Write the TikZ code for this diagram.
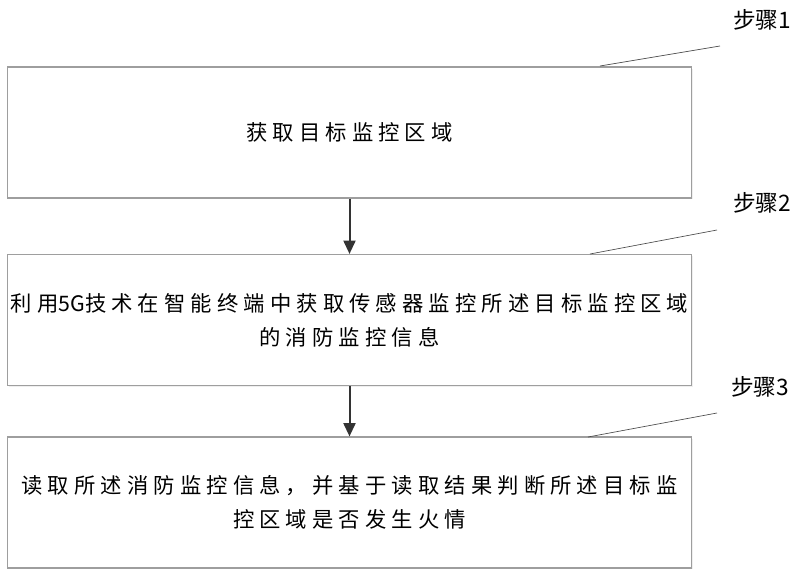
\documentclass[tikz,border=0pt]{standalone}
\usepackage{fontspec}
\newfontfamily\cjk[LetterSpace=24]{Noto Sans CJK SC}
\newfontfamily\cjklabel{Noto Sans CJK SC}
\usetikzlibrary{arrows.meta,shadows}
\tikzset{
  stepbox/.style={draw=black!38, line width=1.1pt, fill=white,
    drop shadow={shadow xshift=1.2pt, shadow yshift=-1.2pt, fill=black!12},
    minimum width=513pt, minimum height=98pt, inner sep=0pt,
    align=center, font=\cjk\fontsize{16pt}{25.5pt}\selectfont},
  steplabel/.style={font=\cjklabel\fontsize{17pt}{18pt}\selectfont, inner sep=0pt},
  leader/.style={draw=black!70, line width=0.5pt},
  flow/.style={draw=black!80, line width=1.5pt, -{Triangle[length=10pt,width=9pt]}}
}
\begin{document}
\begin{tikzpicture}[x=0.75pt,y=-0.75pt]
  \useasboundingbox (0,0) rectangle (800,578);
  \draw
    (349.5,132.5) node[stepbox] (s1){获取目标监控区域}
    (349.5,320) node[stepbox] (s2){利用{\cjklabel 5G}技术在智能终端中获取传感器监控所述目标监控区域\\的消防监控信息}
    (349.5,502.5) node[stepbox] (s3){读取所述消防监控信息，并基于读取结果判断所述目标监\\控区域是否发生火情};
  \draw
    (762,20) node[steplabel] (l1){步骤1}
    (762,203) node[steplabel] (l2){步骤2}
    (760,387) node[steplabel] (l3){步骤3};
  \coordinate (a1) at (600,66);
  \coordinate (b1) at (720,46);
  \coordinate (a2) at (590,254);
  \coordinate (b2) at (717,230);
  \coordinate (a3) at (588,437);
  \coordinate (b3) at (717,413);
  \begin{scope}[leader]
    \draw (a1) to (b1);
    \draw (a2) to (b2);
    \draw (a3) to (b3);
  \end{scope}
  \begin{scope}[flow]
    \draw (s1) to (s2);
    \draw (s2) to (s3);
  \end{scope}
\end{tikzpicture}
\end{document}
